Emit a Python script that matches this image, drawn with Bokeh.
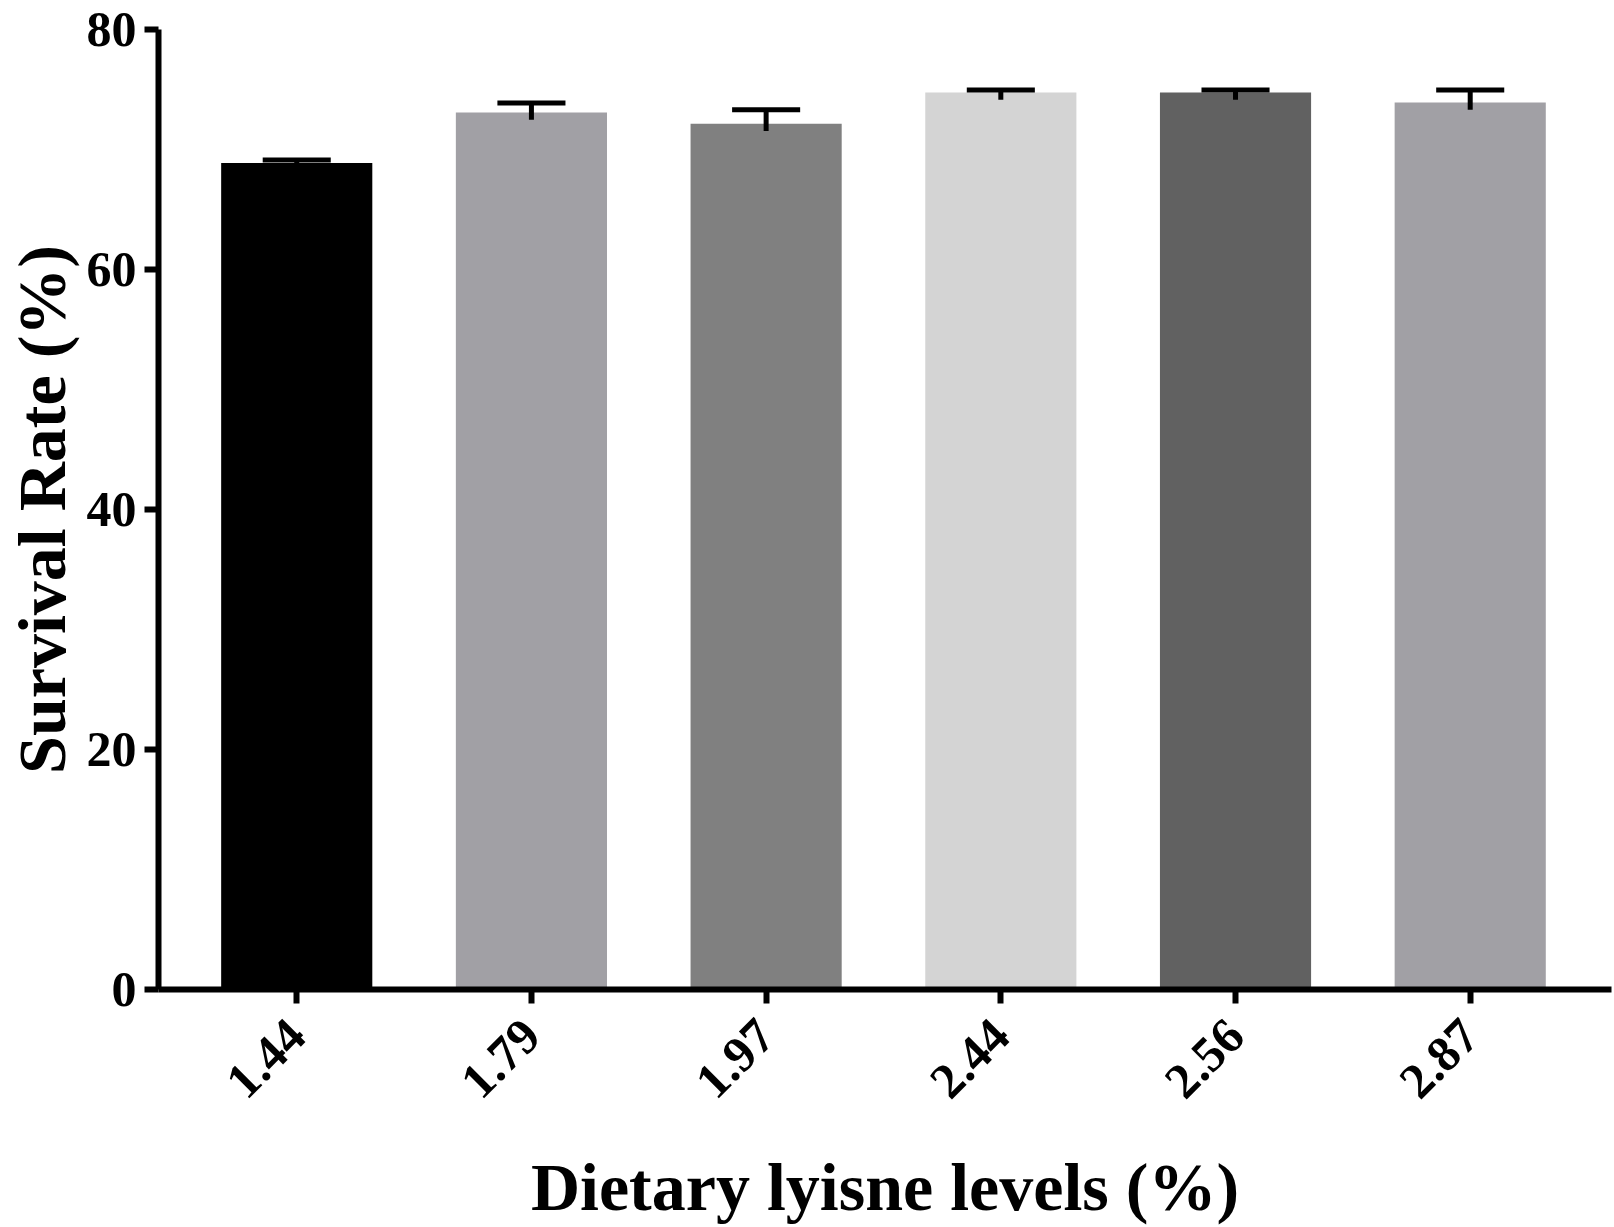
import math
from bokeh.plotting import figure
from bokeh.models import ColumnDataSource, Range1d, FixedTicker
from bokeh.embed import file_html
from bokeh.resources import INLINE

# ---- data ----
levels = ["1.44", "1.79", "1.97", "2.44", "2.56", "2.87"]
survival = [68.87, 73.08, 72.15, 74.74, 74.74, 73.91]
sem = [0.25, 0.80, 1.16, 0.22, 0.22, 1.05]
bar_colors = ["#000000", "#a1a0a5", "#808080", "#d4d4d4", "#616161", "#a1a0a5"]
y_ticks = [0, 20, 40, 60, 80]
x_title = "Dietary lyisne levels (%)"
y_title = "Survival Rate (%)"

# ---- styles ----
FONT = "Liberation Serif"
BAR_WIDTH = 0.644
CAP_HALF = 0.145
STEM_BELOW = 0.6
AXIS_W = 6
W, H = 1614, 1227
XMIN, XMAX = -0.589, 5.602

xs = list(range(len(levels)))
src = ColumnDataSource(dict(
    x=xs, top=survival, color=bar_colors,
    ehigh=[v + e for v, e in zip(survival, sem)],
    elow=[v - STEM_BELOW for v in survival],
    cx0=[x - CAP_HALF for x in xs],
    cx1=[x + CAP_HALF for x in xs],
))

p = figure(width=W, height=H, output_backend="svg", toolbar_location=None,
           x_range=Range1d(XMIN, XMAX), y_range=Range1d(0, 80),
           min_border_left=157, min_border_top=29, min_border_right=3,
           min_border_bottom=237)

p.vbar(x="x", top="top", bottom=0, width=BAR_WIDTH, fill_color="color",
       line_color=None, source=src)
p.segment(x0="x", y0="elow", x1="x", y1="ehigh", line_color="black",
          line_width=5, line_cap="butt", source=src)
p.segment(x0="cx0", y0="ehigh", x1="cx1", y1="ehigh", line_color="black",
          line_width=5, line_cap="butt", source=src)

p.xgrid.visible = False
p.ygrid.visible = False
p.outline_line_color = None
p.background_fill_color = "white"
p.border_fill_color = "white"

p.xaxis.ticker = FixedTicker(ticks=xs)
p.xaxis.major_label_overrides = {i: lab for i, lab in enumerate(levels)}
p.yaxis.ticker = FixedTicker(ticks=y_ticks)

for ax in (p.xaxis[0], p.yaxis[0]):
    ax.axis_line_width = AXIS_W
    ax.axis_line_color = "black"
    ax.major_tick_line_width = AXIS_W
    ax.major_tick_line_color = "black"
    ax.major_tick_out = 14
    ax.major_tick_in = 0
    ax.minor_tick_line_color = None
    ax.major_label_text_font = FONT
    ax.major_label_text_font_style = "bold"
    ax.major_label_text_font_size = "50px"
    ax.major_label_text_color = "black"
    ax.axis_label_text_font = FONT
    ax.axis_label_text_font_style = "bold"
    ax.axis_label_text_font_size = "68px"
    ax.axis_label_text_color = "black"

p.xaxis.major_label_orientation = math.pi / 4
p.xaxis.major_label_standoff = 24
p.xaxis.axis_label = x_title
p.xaxis.axis_label_standoff = 33

p.yaxis.major_label_standoff = 8
p.yaxis.axis_label = y_title
p.yaxis.axis_label_standoff = 4

open("out.html", "w").write(file_html(p, INLINE))
